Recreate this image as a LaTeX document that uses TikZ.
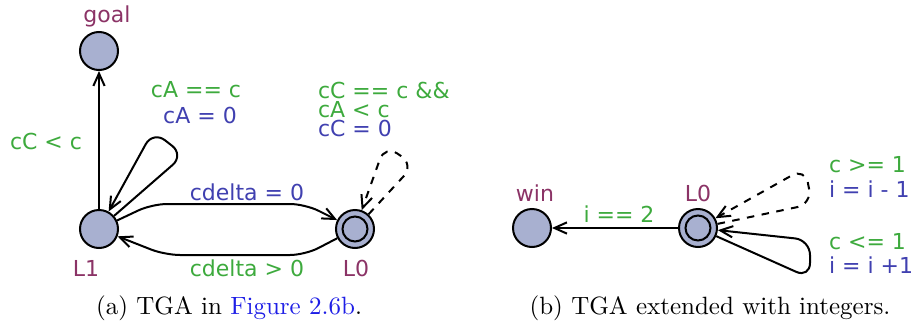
\documentclass[tikz,border=0pt]{standalone}
\usepackage{fontspec}
\newfontfamily\uppfont{DejaVu Sans}
\usepackage{xcolor}
\usetikzlibrary{arrows.meta}
\definecolor{locfill}{RGB}{168,176,208}
\definecolor{locname}{RGB}{139,51,102}
\definecolor{guardcol}{RGB}{61,170,61}
\definecolor{updcol}{RGB}{64,64,176}
\definecolor{linkcol}{RGB}{30,30,230}
\begin{document}
\begin{tikzpicture}[x=0.4pt,y=-0.4pt, line width=0.8pt,
  loc/.style={circle,draw,fill=locfill,minimum size=15.2pt,inner sep=0pt},
  initloc/.style={loc,path picture={\draw (path picture bounding box.center) circle (5pt);}},
  lbl/.style={font=\uppfont\fontsize{8.8}{9}\selectfont,inner sep=0pt},
  locnm/.style={lbl,text=locname},
  guard/.style={lbl,text=guardcol},
  upd/.style={lbl,text=updcol},
  arr/.style={-{Straight Barb[length=5pt,width=4.5pt]},rounded corners=6pt}]
\useasboundingbox (0,0) rectangle (914,327);
% (a) TGA
\node[loc] (goal) at (99,51) {};
\node[loc] (l1) at (99,229) {};
\node[initloc] (l0) at (355,229) {};
\node[locnm] (goalname) at (107,16) {goal};
\node[locnm] (l1name) at (86,268) {L1};
\node[locnm] (l0name) at (356,268) {L0};
\node[guard] (g1) at (46,141) {cC < c};
\node[guard] (g2) at (196,90) {cA == c};
\node[upd] (u2) at (200,115) {cA = 0};
\node[guard,anchor=west] (g3a) at (317,90) {cC == c \&\&};
\node[guard,anchor=west] (g3b) at (317,110) {cA < c};
\node[upd,anchor=west] (u3) at (317,128) {cC = 0};
\node[upd] (u4) at (247,192) {cdelta = 0};
\node[guard] (g5) at (247,268) {cdelta > 0};
\draw[arr] (l1) -- (goal);
\draw[arr] (l1) -- (184,155) -- (153,131) -- (l1);
\draw[arr] (l1) -- (152,204) -- (305,204) -- (l0);
\draw[arr] (l0) -- (305,255) -- (165,255) -- (l1);
\draw[arr,dashed] (l0) -- (414,165) -- (385,145) -- (l0);
\node (capa) at (229,308) {(a) TGA in \textcolor{linkcol}{Figure 2.6b}.};
% (b) TGA with integers
\node[loc] (win) at (532,228) {};
\node[initloc] (l0b) at (698,228) {};
\node[locnm] (winname) at (535,193) {win};
\node[locnm] (l0bname) at (698,193) {L0};
\node[guard] (g6) at (619,214) {i == 2};
\node[guard,anchor=west] (g7) at (828,165) {c >= 1};
\node[upd,anchor=west] (u7) at (828,189) {i = i - 1};
\node[guard,anchor=west] (g8) at (828,242) {c <= 1};
\node[upd,anchor=west] (u8) at (828,265) {i = i +1};
\draw[arr] (l0b) -- (win);
\draw[arr,dashed] (l0b) -- (812,204) -- (805,168) -- (l0b);
\draw[arr] (l0b) -- (810,278) -- (810,240) -- (l0b);
\node (capb) at (710,308) {(b) TGA extended with integers.};
\end{tikzpicture}
\end{document}
